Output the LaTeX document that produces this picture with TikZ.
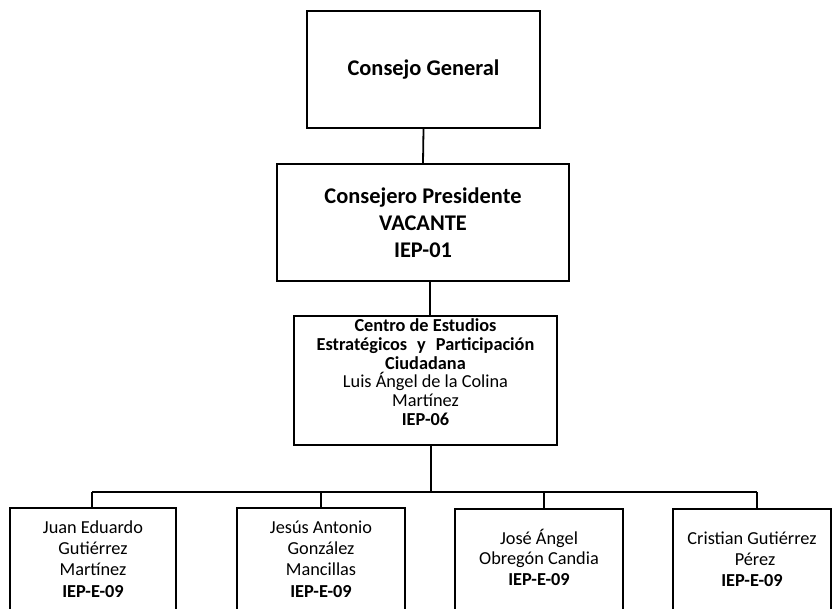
\documentclass[tikz,border=0pt]{standalone}
\usepackage{fontspec}
\setmainfont{Carlito}
\newcommand\btext[4]{\parbox[t][#2][t]{#1}{\centering\rule{0pt}{#3}#4\par}}
\begin{document}
\begin{tikzpicture}[x=1pt,y=-1pt,
  box/.style={draw=black,line width=1.8pt,align=center,inner sep=0pt,anchor=north},
  openbox/.style={inner sep=0pt,anchor=north},
  conn/.style={draw=black,line width=1.8pt},
  side/.style={draw=black,line width=1.7pt},
  leaf/.style={font=\fontsize{18.3}{21.3}\selectfont}]
\useasboundingbox (0,0) rectangle (832,609);
\node[box,minimum width=233pt,minimum height=117pt,font=\bfseries\fontsize{22.4}{27}\selectfont] (cg) at (423.5,10) {Consejo General};
\node[box,minimum width=292pt,minimum height=117pt,font=\bfseries\fontsize{22.4}{27}\selectfont] (cp) at (423,163) {Consejero Presidente\\VACANTE\\IEP-01};
\node[box,font=\fontsize{18.3}{18.7}\selectfont] (ce) at (425.5,315)
  {\btext{263pt}{129pt}{16pt}{\textbf{Centro de Estudios}\\\textbf{Estratégicos\hspace{10pt}y\hspace{10pt}Participación}\\\textbf{Ciudadana}\\Luis Ángel de la Colina\\Martínez\\\textbf{IEP-06}}};
\node[openbox,leaf] (b1) at (93,508) {\btext{166pt}{101pt}{25pt}{Juan Eduardo\\Gutiérrez\\Martínez\\\textbf{IEP-E-09}}};
\node[openbox,leaf] (b2) at (321,508) {\btext{168pt}{101pt}{25pt}{Jesús Antonio\\González\\Mancillas\\\textbf{IEP-E-09}}};
\node[openbox,font=\fontsize{18.3}{20.6}\selectfont] (b3) at (539,509) {\btext{168pt}{100pt}{35pt}{José Ángel\\Obregón Candia\\\textbf{IEP-E-09}}};
\node[openbox,font=\fontsize{18.3}{21}\selectfont] (b4) at (752,509) {\btext{158pt}{100pt}{35pt}{Cristian Gutiérrez\\\hspace*{6pt}Pérez\\\textbf{IEP-E-09}}};
\foreach \b in {b1,b2,b3,b4}{
  \draw[side] (\b.south west) -- (\b.north west) -- (\b.north east) -- (\b.south east);
}
\coordinate (bus) at (431,492);
\coordinate (d1) at (92,492);
\coordinate (d2) at (321,492);
\coordinate (d3) at (544,492);
\coordinate (d4) at (757,492);
\draw[conn] (cg.south) -- (cp.north);
\draw[conn] ([xshift=7pt]cp.south) -- ([xshift=4.5pt]ce.north);
\draw[conn] (ce.south -| bus) -- (bus);
\draw[conn] (d1) -- (d4);
\draw[conn] (d1) -- (d1 |- b1.north);
\draw[conn] (d2) -- (d2 |- b2.north);
\draw[conn] (d3) -- (d3 |- b3.north);
\draw[conn] (d4) -- (d4 |- b4.north);
\end{tikzpicture}
\end{document}
